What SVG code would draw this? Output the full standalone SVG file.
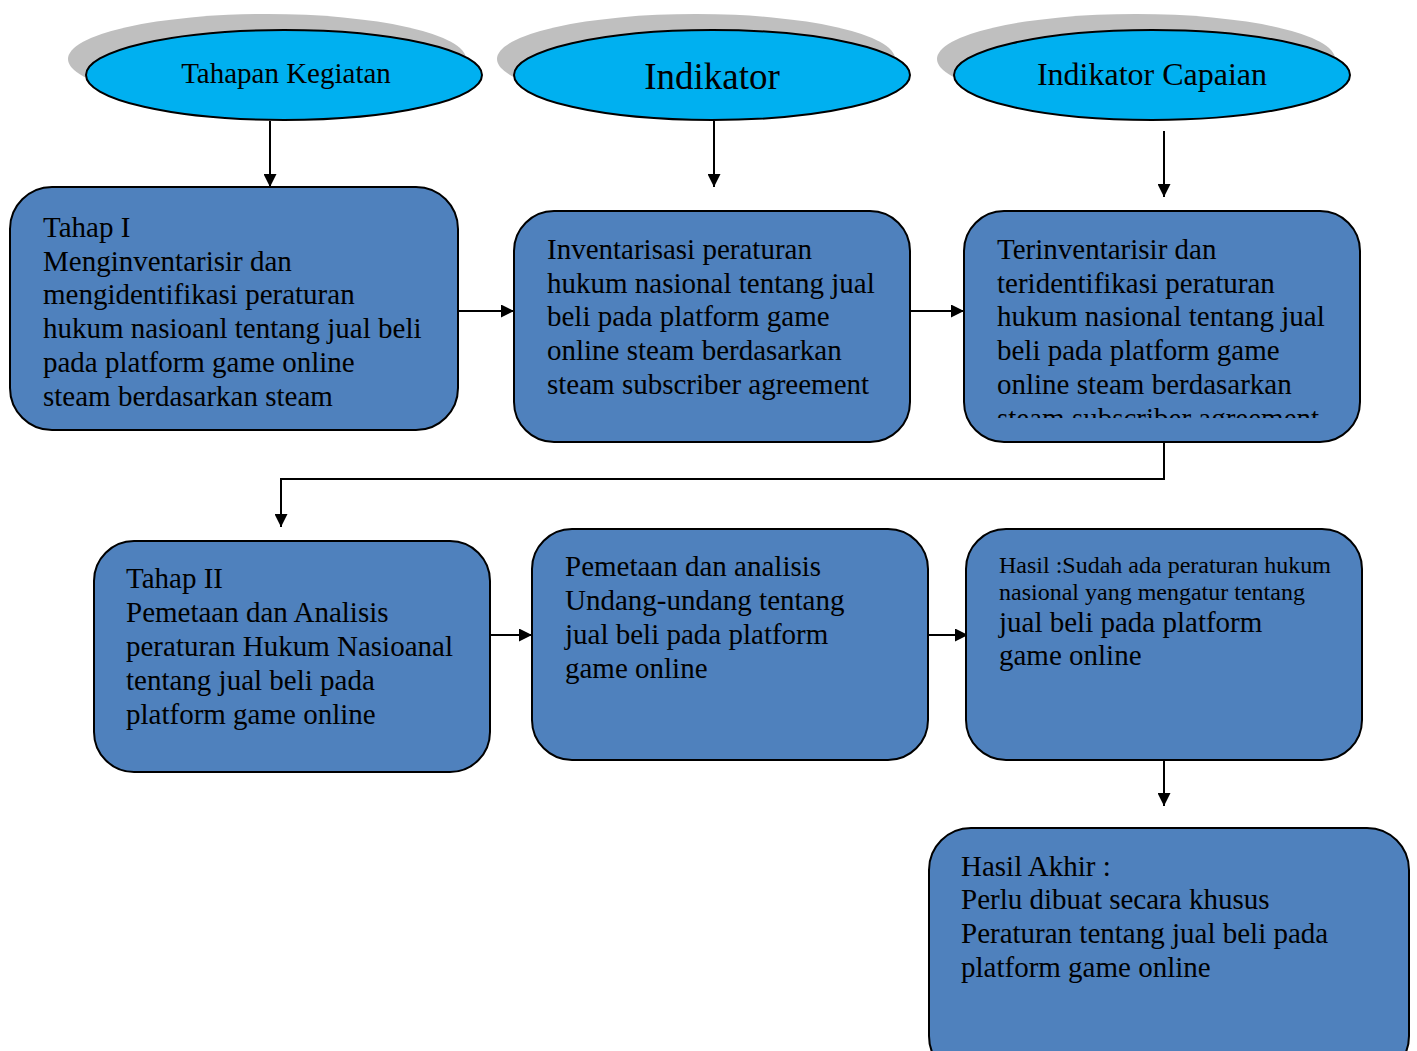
<svg xmlns="http://www.w3.org/2000/svg" width="1417" height="1051" viewBox="0 0 1417 1051" font-family="'Liberation Serif', 'Times New Roman', serif">
<style>
.sh{fill:#BFBFBF}
.el{fill:#00B0F0;stroke:#000;stroke-width:2}
.bx{fill:#4F81BD;stroke:#000;stroke-width:2}
text{font-family:'Liberation Serif','Times New Roman',serif;fill:#000}
.t{font-size:29px}
.s{font-size:24px}
.c{stroke:#000;stroke-width:2;fill:none}
</style>
<defs>
<marker id="ah" viewBox="0 0 12 12" refX="12" refY="6" markerWidth="14" markerHeight="13" markerUnits="userSpaceOnUse" orient="auto">
<path d="M0,0 L12,6 L0,12 z" fill="#000"/>
</marker>
<clipPath id="clip3"><rect x="964" y="211" width="396" height="207"/></clipPath>
</defs>
<rect width="1417" height="1051" fill="#fff"/>
<g id="e1">
<ellipse class="sh" cx="267" cy="59" rx="199" ry="45"/>
<ellipse class="el" cx="284" cy="75" rx="198" ry="45"/>
<text x="286" y="83" text-anchor="middle" font-size="29">Tahapan Kegiatan</text>
</g>
<g id="e2">
<ellipse class="sh" cx="696" cy="59" rx="199" ry="45"/>
<ellipse class="el" cx="712" cy="75" rx="198" ry="45"/>
<text x="712" y="89" text-anchor="middle" font-size="37">Indikator</text>
</g>
<g id="e3">
<ellipse class="sh" cx="1136" cy="59" rx="199" ry="45"/>
<ellipse class="el" cx="1152" cy="75" rx="198" ry="45"/>
<text x="1152" y="85" text-anchor="middle" font-size="32">Indikator Capaian</text>
</g>
<g id="connectors">
<line class="c" x1="270" y1="121" x2="270" y2="187" marker-end="url(#ah)"/>
<line class="c" x1="714" y1="121" x2="714" y2="187" marker-end="url(#ah)"/>
<line class="c" x1="1164" y1="131" x2="1164" y2="197" marker-end="url(#ah)"/>
<line class="c" x1="458" y1="311" x2="514" y2="311" marker-end="url(#ah)"/>
<line class="c" x1="910" y1="311" x2="964" y2="311" marker-end="url(#ah)"/>
<polyline class="c" points="1164,442 1164,479 281,479 281,527" marker-end="url(#ah)"/>
<line class="c" x1="490" y1="635" x2="532" y2="635" marker-end="url(#ah)"/>
<line class="c" x1="928" y1="635" x2="968" y2="635" marker-end="url(#ah)"/>
<line class="c" x1="1164" y1="760" x2="1164" y2="806" marker-end="url(#ah)"/>
</g>
<g id="b1">
<rect class="bx" x="10" y="187" width="448" height="243" rx="42"/>
<text class="t" x="43" y="237">Tahap I</text>
<text class="t" x="43" y="271">Menginventarisir dan</text>
<text class="t" x="43" y="304">mengidentifikasi peraturan</text>
<text class="t" x="43" y="338">hukum nasioanl tentang jual beli</text>
<text class="t" x="43" y="372">pada platform game online</text>
<text class="t" x="43" y="406">steam berdasarkan steam</text>
</g>
<g id="b2">
<rect class="bx" x="514" y="211" width="396" height="231" rx="40"/>
<text class="t" x="547" y="259">Inventarisasi peraturan</text>
<text class="t" x="547" y="293">hukum nasional tentang jual</text>
<text class="t" x="547" y="326">beli pada platform game</text>
<text class="t" x="547" y="360">online steam berdasarkan</text>
<text class="t" x="547" y="394">steam subscriber agreement</text>
</g>
<g id="b3">
<rect class="bx" x="964" y="211" width="396" height="231" rx="40"/>
<g clip-path="url(#clip3)">
<text class="t" x="997" y="259">Terinventarisir dan</text>
<text class="t" x="997" y="293">teridentifikasi peraturan</text>
<text class="t" x="997" y="326">hukum nasional tentang jual</text>
<text class="t" x="997" y="360">beli pada platform game</text>
<text class="t" x="997" y="394">online steam berdasarkan</text>
<text class="t" x="997" y="428">steam subscriber agreement</text>
</g>
</g>
<g id="b4">
<rect class="bx" x="94" y="541" width="396" height="231" rx="40"/>
<text class="t" x="126" y="588">Tahap II</text>
<text class="t" x="126" y="622">Pemetaan dan Analisis</text>
<text class="t" x="126" y="656">peraturan Hukum Nasioanal</text>
<text class="t" x="126" y="690">tentang jual beli pada</text>
<text class="t" x="126" y="724">platform game online</text>
</g>
<g id="b5">
<rect class="bx" x="532" y="529" width="396" height="231" rx="40"/>
<text class="t" x="565" y="576">Pemetaan dan analisis</text>
<text class="t" x="565" y="610">Undang-undang tentang</text>
<text class="t" x="565" y="644">jual beli pada platform</text>
<text class="t" x="565" y="678">game online</text>
</g>
<g id="b6">
<rect class="bx" x="966" y="529" width="396" height="231" rx="40"/>
<text class="s" x="999" y="573">Hasil :Sudah ada peraturan hukum</text>
<text class="s" x="999" y="600">nasional yang mengatur tentang</text>
<text class="t" x="999" y="632">jual beli pada platform</text>
<text class="t" x="999" y="665">game online</text>
</g>
<g id="b7">
<rect class="bx" x="929" y="828" width="480" height="250" rx="42"/>
<text class="t" x="961" y="876">Hasil Akhir :</text>
<text class="t" x="961" y="909">Perlu dibuat secara khusus</text>
<text class="t" x="961" y="943">Peraturan tentang jual beli pada</text>
<text class="t" x="961" y="977">platform game online</text>
</g>
</svg>
